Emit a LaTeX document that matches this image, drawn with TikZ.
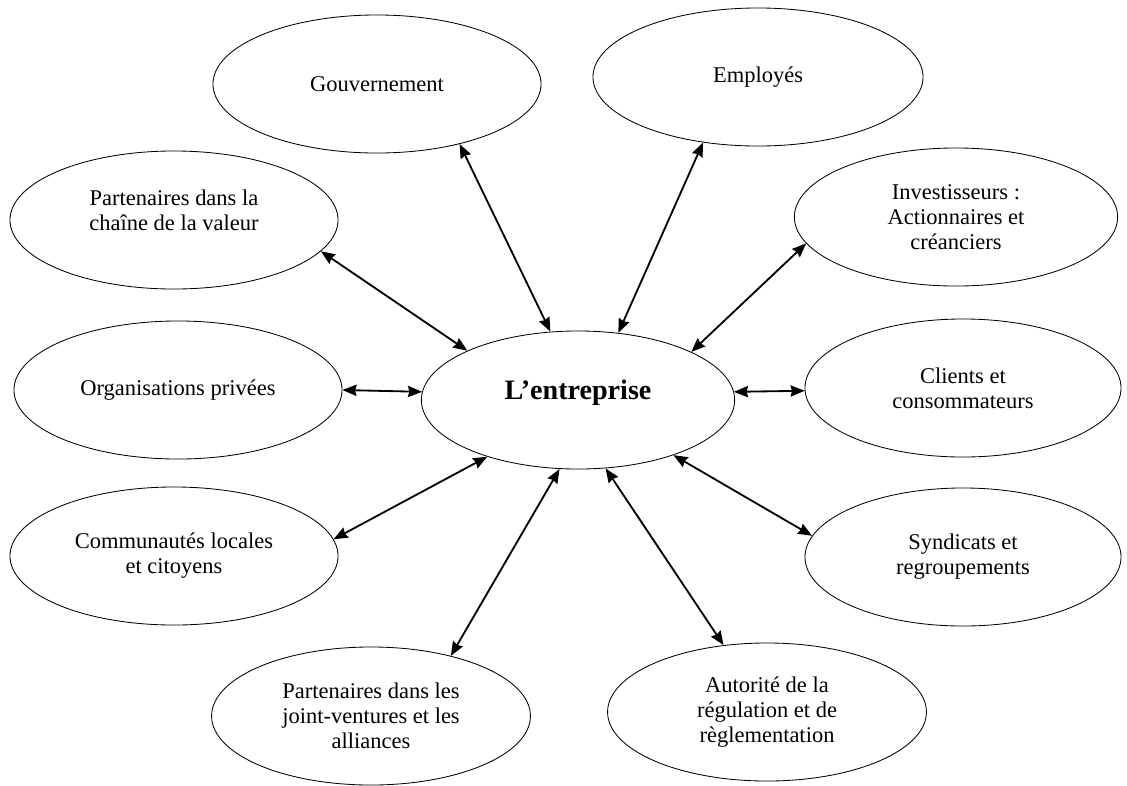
\documentclass[tikz,border=0pt]{standalone}
\usepackage{fontspec}
\setmainfont{Liberation Serif}
\usetikzlibrary{shapes.geometric,arrows.meta}
\begin{document}
\begin{tikzpicture}[x=0.025cm,y=-0.025cm,
 party/.style={draw,ellipse,line width=0.6pt,align=center,inner sep=0pt,font=\fontsize{16}{17.8}\selectfont,minimum width=8.2cm,minimum height=3.45cm},
 firm/.style={party,font=\fontsize{20}{24}\selectfont\bfseries,minimum width=7.83cm,text depth=14pt},
 link/.style={<->,line width=1.3pt},>={Stealth[length=10pt,width=8pt,inset=1pt]}]
\useasboundingbox (0,0) rectangle (1127,785);
\node[firm] (ent) at (578,400) {L’entreprise};
\node[party] (gouv) at (377,84) {Gouvernement};
\node[party,minimum width=8.25cm] (empl) at (758,77) {Employés};
\node[party] (chaine) at (174,220) {Partenaires dans la\\chaîne de la valeur\\[-4.4pt]\mbox{}};
\node[party,minimum width=8.08cm] (invest) at (956,217) {Investisseurs :\\Actionnaires et\\créanciers};
\node[party] (priv) at (178,390) {Organisations privées};
\node[party,minimum width=7.9cm] (clients) at (963,388) {Clients et\\consommateurs};
\node[party] (commun) at (174,556) {Communautés locales\\et citoyens};
\node[party,minimum width=7.9cm] (synd) at (963,557) {Syndicats et\\regroupements};
\node[party,minimum width=7.97cm] (joint) at (371,716) {Partenaires dans les\\joint-ventures et les\\alliances};
\node[party,minimum width=7.97cm] (autor) at (767,712) {Autorité de la\\régulation et de\\règlementation};
\draw[link] (gouv.-36) -- (ent.112);
\draw[link] (empl.-130) -- (ent.59);
\draw[link] (chaine.-12) -- (ent.156);
\draw[link] (invest.190) -- (ent.23);
\draw[link] (priv.0) -- (ent.177);
\draw[link] (ent.3) -- (clients.181);
\draw[link] (commun.6) -- (ent.212);
\draw[link] (ent.-30) -- (synd.172);
\draw[link] (ent.-105) -- (joint.37);
\draw[link] (ent.-68) -- (autor.123);
\end{tikzpicture}
\end{document}
